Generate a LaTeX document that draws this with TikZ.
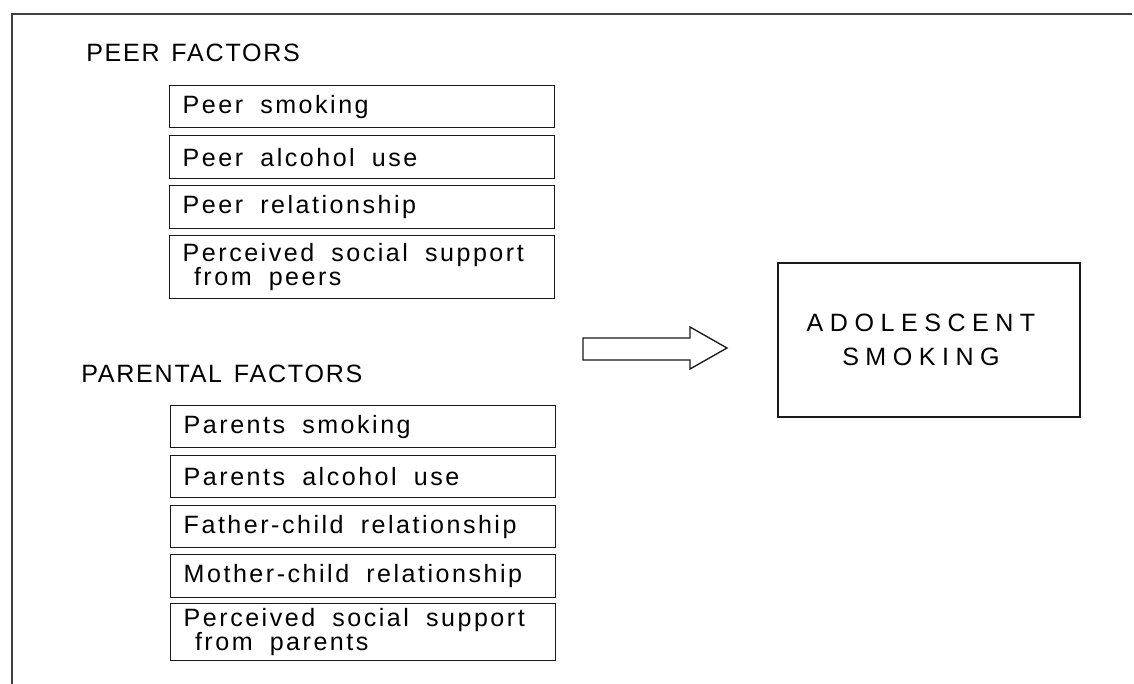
\documentclass[tikz,border=0pt]{standalone}
\usepackage{fontspec}
\setmainfont{Liberation Sans}
\newfontfamily\boxfont[LetterSpace=10]{Liberation Sans}
\newfontfamily\headfont[LetterSpace=7]{Liberation Sans}
\newfontfamily\bigfont[LetterSpace=26]{Liberation Sans}
\newcommand\boxtextfont{\boxfont\fontsize{18.8pt}{18pt}\selectfont}
\newcommand\headtextfont{\headfont\fontsize{18.8pt}{18pt}\selectfont}
\newcommand\bigtextfont{\bigfont\fontsize{18.8pt}{25.5pt}\selectfont}
\newcommand\wsp{\hspace*{0.35em}\space}
\newcommand\hsp{\hspace*{0.12em}\space}
\begin{document}
\begin{tikzpicture}[x=0.75pt,y=-0.75pt,
  frameline/.style={draw=black!75, line width=0.8pt},
  item/.style={draw=black!90, line width=1.1pt, anchor=north west,
    minimum width=288.75pt, text width=269.25pt, inner xsep=9.75pt,
    inner ysep=0pt, align=left, font=\boxtextfont},
  header/.style={anchor=base west, inner sep=0pt, font=\headtextfont},
  outcome/.style={draw=black!90, line width=1.1pt, minimum width=226.5pt,
    minimum height=115.5pt, align=center, inner sep=0pt, font=\bigtextfont},
  blockarrow/.style={draw=black!90, line width=1pt, line join=miter, fill=white}
]
\useasboundingbox (0,0) rectangle (1134,684);
\draw[frameline] (12,684) -- (12,14) -- (1132,14);

% Peer factors
\node[header] (peerhead) at (86,62) {PEER\hsp FACTORS};
\node[item, minimum height=31.5pt] (p1) at (169,85) {Peer\wsp smoking};
\node[item, minimum height=32.25pt] (p2) at (169,135) {Peer\wsp alcohol\wsp use};
\node[item, minimum height=32.25pt] (p3) at (169,185) {Peer\wsp relationship};
\node[item, minimum height=47.25pt] (p4) at (169,235) {Perceived\wsp social\wsp support\\\hspace*{0.45em}from\wsp peers};

% Parental factors
\node[header] (parhead) at (81,382) {PARENTAL\hsp FACTORS};
\node[item, minimum height=31.5pt] (q1) at (170,405) {Parents\wsp smoking};
\node[item, minimum height=31.5pt] (q2) at (170,455) {Parents\wsp alcohol\wsp use};
\node[item, minimum height=31.5pt] (q3) at (170,505) {Father-child\wsp relationship};
\node[item, minimum height=32.25pt] (q4) at (170,554) {Mother-child\wsp relationship};
\node[item, minimum height=42.75pt] (q5) at (170,603) {Perceived\wsp social\wsp support\\\hspace*{0.45em}from\wsp parents};

% Outcome
\node[outcome] (out) at (929,340) {ADOLESCENT\hspace*{12pt}\\SMOKING\hspace*{12pt}};

% Block arrow
\draw[blockarrow] (583,338) -- (690,338) -- (690,327) -- (727,348)
  -- (690,369) -- (690,360) -- (583,360) -- cycle;
\end{tikzpicture}
\end{document}
